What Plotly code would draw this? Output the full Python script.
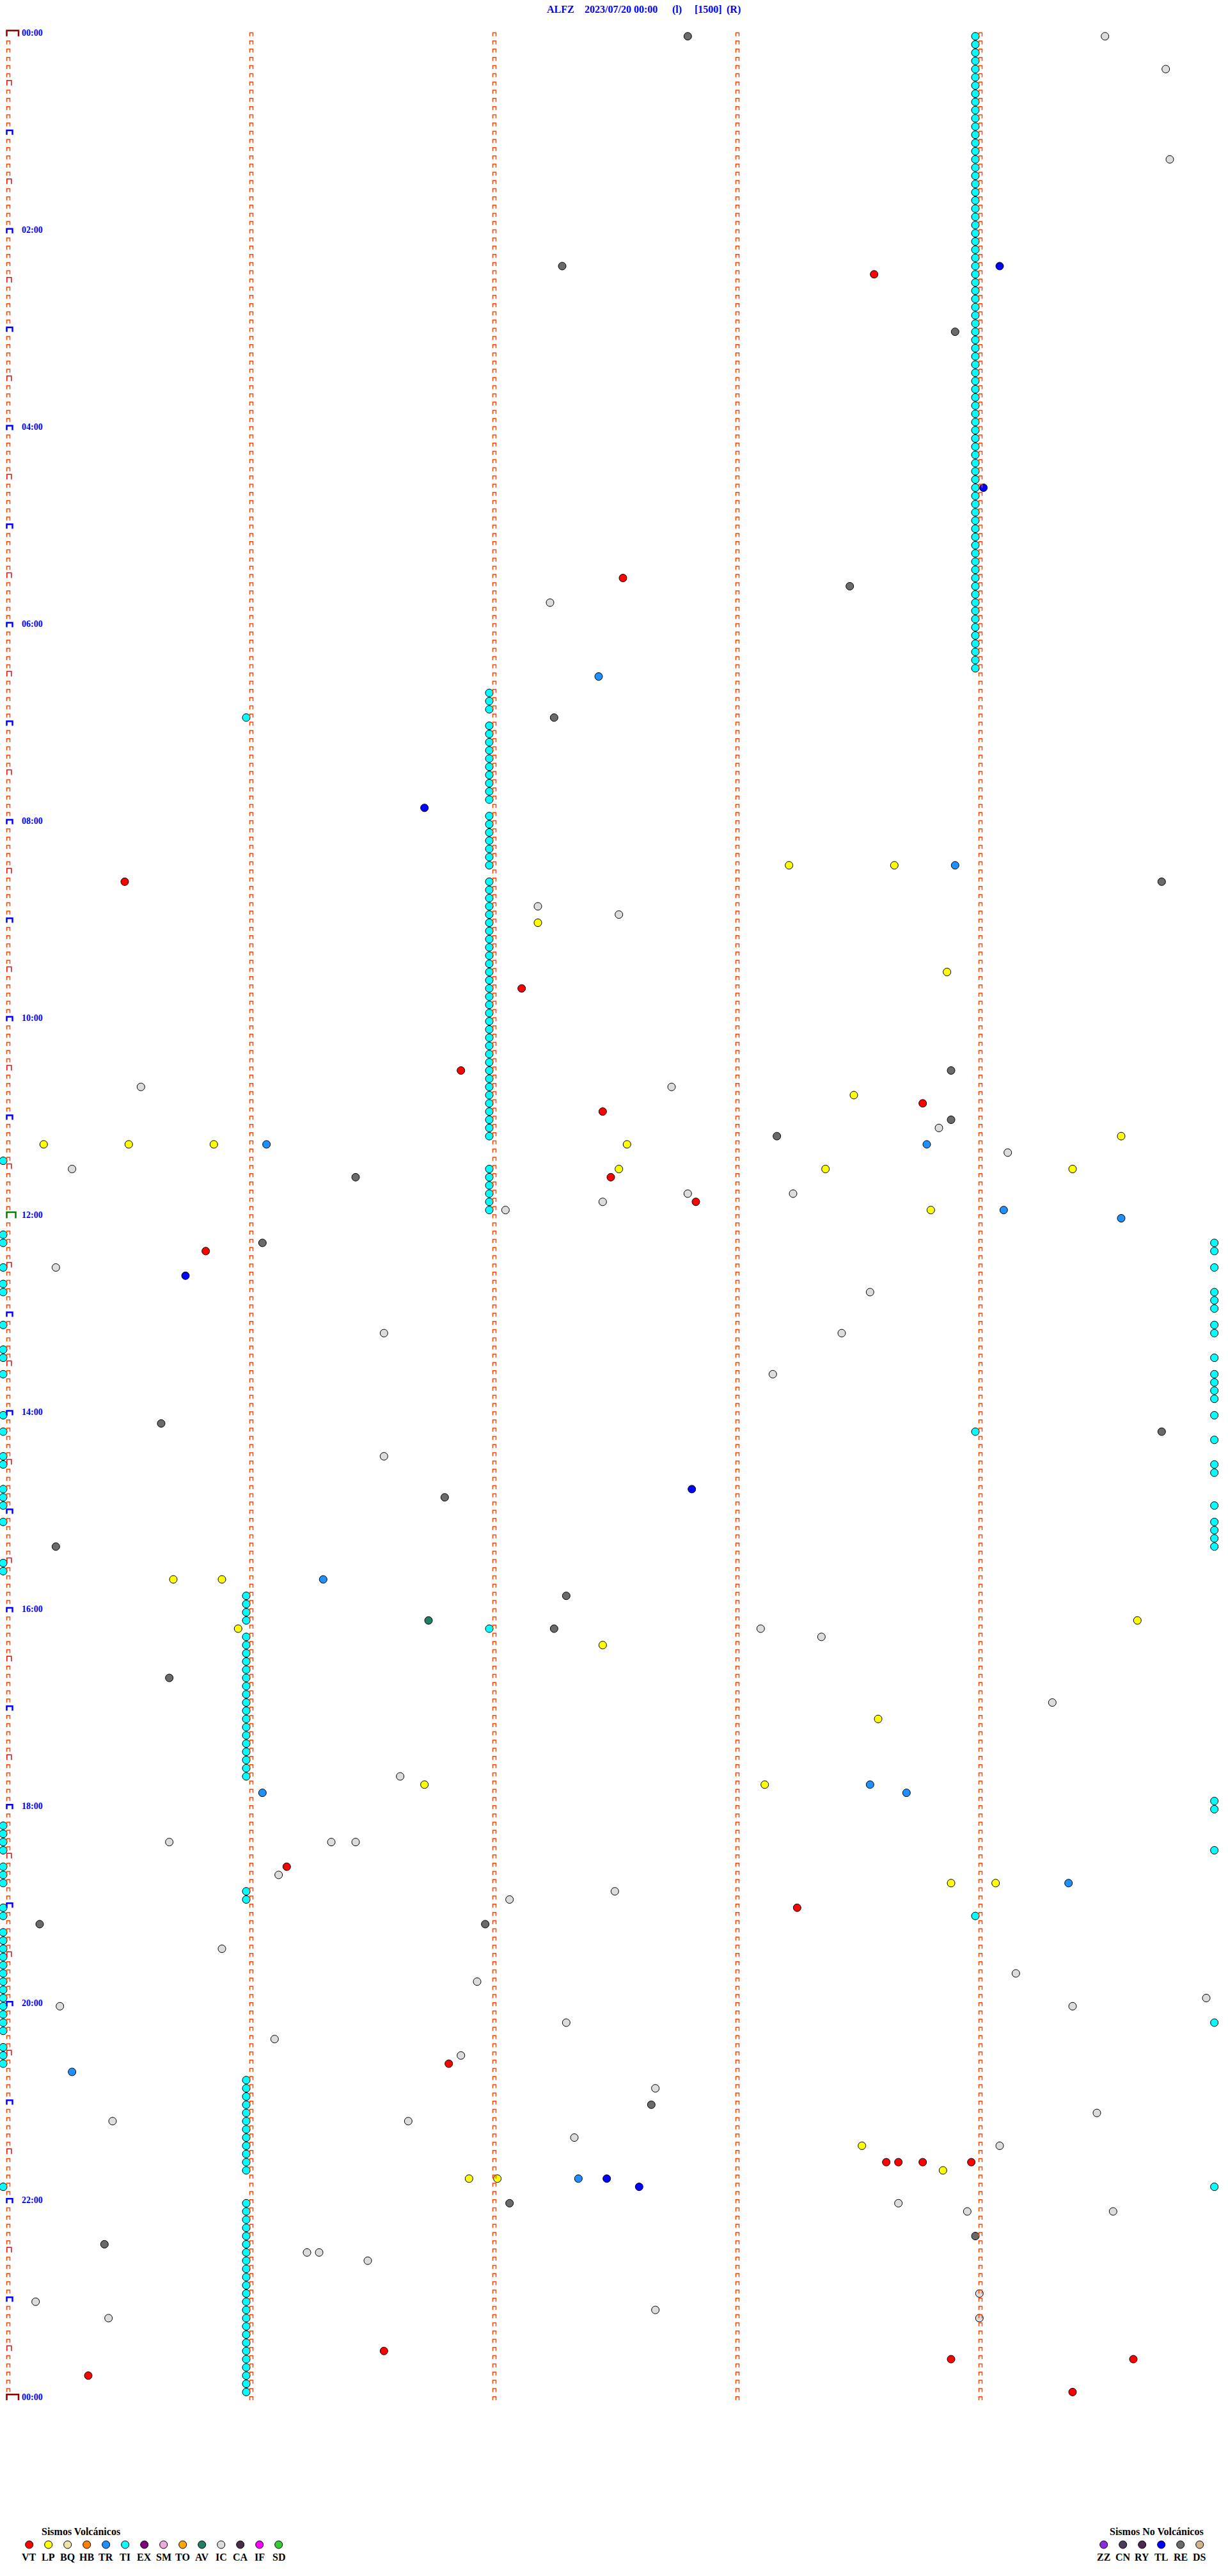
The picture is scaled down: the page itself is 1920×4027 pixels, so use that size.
import plotly.graph_objects as go

# ---------------- data ----------------
station = "ALFZ"
title_parts = ["ALFZ", "2023/07/20 00:00", "(l)", "[1500]", "(R)"]

volc_codes = ["VT", "LP", "BQ", "HB", "TR", "TI", "EX", "SM", "TO", "AV", "IC", "CA", "IF", "SD"]
volc_colors = ["#FF0000", "#FFFF00", "#EEE4AA", "#FF8000", "#1E90FF", "#00FFFF", "#800080",
               "#EEAADD", "#FFA500", "#1F7F66", "#DCDCDC", "#4A2B48", "#FF00FF", "#33CC33"]
novolc_codes = ["ZZ", "CN", "RY", "TL", "RE", "DS"]
novolc_colors = ["#8A2BE2", "#4B3A5A", "#4A2850", "#0000FF", "#6A6A6A", "#D2B48C"]

ti_times = """
00:04:00 00:09:00 00:14:00 00:19:00 00:24:00 00:29:00 00:34:00 00:39:00 00:44:00 00:49:00 00:54:00 00:59:00
01:04:00 01:09:00 01:14:00 01:19:00 01:24:00 01:29:00 01:34:00 01:39:00 01:44:00 01:49:00 01:54:00 01:59:00
02:04:00 02:09:00 02:14:00 02:19:00 02:24:00 02:29:00 02:34:00 02:39:00 02:44:00 02:49:00 02:54:00 02:59:00
03:04:00 03:09:00 03:14:00 03:19:00 03:24:00 03:29:00 03:34:00 03:39:00 03:44:00 03:49:00 03:54:00 03:59:00
04:04:00 04:09:00 04:14:00 04:19:00 04:24:00 04:29:00 04:34:00 04:39:00 04:44:00 04:49:00 04:54:00 04:59:00
05:04:00 05:09:00 05:14:00 05:19:00 05:24:00 05:29:00 05:34:00 05:39:00 05:44:00 05:49:00 05:54:00 05:59:00
06:04:00 06:09:00 06:14:00 06:19:00 06:24:00 06:29:00 06:42:00 06:47:00 06:52:00 06:56:00
07:02:00 07:07:00 07:12:00 07:17:00 07:22:00 07:27:00 07:32:00 07:37:00 07:42:00 07:47:00 07:57:00
08:02:00 08:07:00 08:12:00 08:17:00 08:22:00 08:27:00 08:37:00 08:42:00 08:47:00 08:52:00 08:57:00
09:02:00 09:07:00 09:12:00 09:17:00 09:22:00 09:27:00 09:32:00 09:37:00 09:42:00 09:47:00 09:52:00 09:57:00
10:02:00 10:07:00 10:12:00 10:17:00 10:22:00 10:27:00 10:32:00 10:37:00 10:42:00 10:47:00 10:52:00 10:57:00
11:02:00 11:07:00 11:12:00 11:25:00 11:32:00 11:37:00 11:42:00 11:47:00 11:52:00 11:57:00
12:10:00 12:15:00 12:30:00 12:40:00 12:45:00 12:19:59 12:24:59 12:34:59 12:49:59 12:54:59 12:59:59
13:05:00 13:20:00 13:25:00 13:35:00 13:09:59 13:14:59 13:29:59 13:39:59 13:44:59 13:49:59 13:54:59
14:00:00 14:10:00 14:25:00 14:30:00 14:45:00 14:50:00 14:55:00 14:04:59 14:19:59 14:34:59 14:39:59 14:59:59 14:14:00
15:05:00 15:30:00 15:35:00 15:09:59 15:14:59 15:19:59 15:24:59 15:51:00 15:56:00
16:01:00 16:06:00 16:16:00 16:21:00 16:26:00 16:31:00 16:36:00 16:41:00 16:46:00 16:51:00 16:56:00 16:12:00
17:01:00 17:06:00 17:11:00 17:16:00 17:21:00 17:26:00 17:31:00 17:36:00 17:41:00 17:59:59
18:04:59 18:29:59 18:10:00 18:15:00 18:20:00 18:25:00 18:35:00 18:40:00 18:45:00 18:51:00 18:56:00
19:00:00 19:05:00 19:15:00 19:20:00 19:25:00 19:30:00 19:35:00 19:40:00 19:45:00 19:50:00 19:55:00 19:09:00
20:00:00 20:05:00 20:10:00 20:15:00 20:25:00 20:30:00 20:35:00 20:14:59 20:46:00 20:51:00 20:56:00
21:01:00 21:06:00 21:11:00 21:16:00 21:21:00 21:26:00 21:31:00 21:36:00 21:41:00 21:50:00 21:54:59
22:01:00 22:06:00 22:11:00 22:16:00 22:21:00 22:26:00 22:31:00 22:36:00 22:41:00 22:46:00 22:51:00 22:56:00
23:01:00 23:06:00 23:11:00 23:16:00 23:21:00 23:26:00 23:31:00 23:36:00 23:41:00 23:46:00 23:51:00 23:56:00
""".split()

vt_times = ["02:28:35", "05:32:33", "08:35:30", "09:42:08", "10:31:53", "10:53:47", "10:57:28",
            "11:37:30", "11:52:51", "12:20:50", "18:36:10", "19:03:16", "20:36:50", "21:38:38",
            "21:38:41", "21:38:47", "21:38:59", "23:31:34", "23:38:54", "23:39:39", "23:45:21",
            "23:59:24"]
lp_times = ["08:28:14", "08:28:40", "09:02:12", "09:33:53", "10:48:30", "11:14:36", "11:15:10",
            "11:15:31", "11:15:52", "11:17:34", "11:32:32", "11:33:23", "11:34:24", "11:58:49",
            "15:40:42", "15:40:54", "16:09:40", "16:10:58", "16:22:28", "17:08:36", "17:46:44",
            "17:48:08", "18:48:54", "18:49:05", "21:28:32", "21:43:52", "21:46:55", "21:47:02"]
tr_times = ["06:32:27", "08:28:55", "11:16:05", "11:18:48", "11:59:07", "12:04:36", "15:41:19",
            "17:48:34", "17:51:04", "17:53:43", "18:49:23", "20:40:17", "21:47:22"]
tl_times = ["02:24:06", "04:39:02", "07:51:44", "12:35:45", "14:47:50", "21:47:29", "21:52:37"]
av_times = ["16:06:45"]
re_times = ["00:02:49", "02:22:18", "03:03:55", "05:38:29", "06:57:16", "08:39:46", "10:33:54",
            "11:03:54", "11:13:11", "11:36:27", "12:16:04", "14:05:39", "14:14:46", "14:51:49",
            "15:20:13", "15:52:19", "16:12:16", "16:40:41", "19:10:09", "19:11:59", "21:02:40",
            "22:02:05", "22:24:00", "22:25:25"]
ic_times = ["00:04:32", "00:24:47", "01:19:48", "05:47:15", "08:52:12", "08:57:32", "10:40:34",
            "10:42:45", "11:08:51", "11:24:08", "11:30:17", "11:47:49", "11:48:15", "11:52:28",
            "11:57:04", "12:30:13", "12:48:34", "13:11:34", "13:13:27", "13:38:10", "14:26:34",
            "16:13:07", "16:18:22", "16:59:19", "17:41:38", "18:20:41", "18:21:21", "18:21:27",
            "18:41:08", "18:52:31", "18:57:05", "19:25:54", "19:44:10", "19:46:57", "19:59:57",
            "20:00:14", "20:04:24", "20:12:19", "20:21:07", "20:31:53", "20:52:41", "21:09:30",
            "21:10:27", "21:11:40", "21:22:21", "21:29:06", "22:03:41", "22:08:58", "22:09:34",
            "22:31:15", "22:31:18", "22:36:30", "22:59:01", "23:00:08", "23:07:41", "23:10:26",
            "23:14:01"]

# ---------------- layout constants (pixels) ----------------
W, H = 1920, 4027
ROW_S = 300                 # one row = 5 minutes
PX_PER_S = 380 / 60         # horizontal scale
X0_PX = 5                   # pixel of offset 0 s
PX_PER_H = 153.98           # vertical scale
Y0_PX = 56.7                # pixel of 00:00 row
COL_PX = [13, 393, 773, 1153, 1533]
MARK_ORANGE = "#FF4400"
SERIF = "Liberation Serif, Times New Roman, serif"


def to_xy(t):
    h, m, s = [int(v) for v in t.split(":")]
    sec = h * 3600 + m * 60 + s
    block = sec // ROW_S
    return sec - block * ROW_S, block * ROW_S / 3600.0


def px_x(px):
    return (px - X0_PX) / PX_PER_S


def dpx_y(px):
    return px / PX_PER_H


fig = go.Figure()

# ---------------- event dots ----------------
color_of = dict(zip(volc_codes + novolc_codes, volc_colors + novolc_colors))
for code, times in [("TI", ti_times), ("IC", ic_times), ("RE", re_times), ("TL", tl_times),
                    ("TR", tr_times), ("LP", lp_times), ("VT", vt_times), ("AV", av_times)]:
    xy = [to_xy(t) for t in times]
    fig.add_trace(go.Scatter(
        x=[p[0] for p in xy], y=[p[1] for p in xy], mode="markers", name=code,
        marker=dict(size=12, color=color_of[code], line=dict(color="#000000", width=1)),
        hoverinfo="skip"))

# ---------------- 5-minute row markers ----------------
n_rows = 24 * 12 + 1
groups = {
    "small": dict(color=MARK_ORANGE, width=1.5, xs=[], ys=[]),
    "half": dict(color="#FF0000", width=1.5, xs=[], ys=[]),
    "hour": dict(color="#0000FF", width=2.5, xs=[], ys=[]),
    "noon": dict(color="#008000", width=2.5, xs=[], ys=[]),
    "day": dict(color="#8B0000", width=2.5, xs=[], ys=[]),
}


def add_mark(g, xl_px, xr_px, h_px, y):
    xl, xr = px_x(xl_px), px_x(xr_px)
    yt = y - dpx_y(h_px)
    groups[g]["xs"] += [xl, xl, xr, xr, None]
    groups[g]["ys"] += [y, yt, yt, y, None]


for k in range(n_rows):
    y = k * ROW_S / 3600.0
    for j, cpx in enumerate(COL_PX):
        if j == 0 and k % 288 == 0:
            add_mark("day", 10.5, 29.0, 9, y)
        elif j == 0 and k == 144:
            add_mark("noon", 10.5, 24.5, 9.5, y)
        elif j == 0 and k % 12 == 0:
            add_mark("hour", 10.5, 19.5, 7, y)
        elif j == 0 and k % 6 == 0:
            add_mark("half", 10.8, 17.8, 8, y)
        else:
            add_mark("small", cpx - 2.5, cpx + 2.5, 5.5, y)

for g in groups.values():
    fig.add_trace(go.Scatter(x=g["xs"], y=g["ys"], mode="lines",
                             line=dict(color=g["color"], width=g["width"]),
                             hoverinfo="skip", connectgaps=False))

annotations = []
# ---------------- time labels every 2 hours ----------------
for k in range(0, n_rows, 24):
    hh = (k // 12) % 24
    annotations.append(dict(
        x=px_x(32), y=k * ROW_S / 3600.0, xref="x", yref="y", text="<b>%02d:00</b>" % hh,
        showarrow=False, xanchor="left", yanchor="middle", yshift=5,
        font=dict(family=SERIF, size=14, color="#0000FF")))

# ---------------- title ----------------
title_left_px = [853, 912, 1049, 1084, 1134]
for txt, lx in zip(title_parts, title_left_px):
    annotations.append(dict(
        x=lx / W, y=1 - 14.5 / H, xref="paper", yref="paper", text="<b>%s</b>" % txt,
        showarrow=False, xanchor="left", yanchor="middle",
        font=dict(family=SERIF, size=16, color="#0000FF")))

# ---------------- legends ----------------
shapes = []


def legend_block(title, codes, colors, first_px, title_px):
    annotations.append(dict(
        x=title_px / W, y=1 - 3957 / H, xref="paper", yref="paper", text="<b>%s</b>" % title,
        showarrow=False, xanchor="left", yanchor="middle",
        font=dict(family=SERIF, size=16, color="#000000")))
    for i, (c, col) in enumerate(zip(codes, colors)):
        cx = first_px + 30 * i
        shapes.append(dict(
            type="circle", xref="paper", yref="paper", xsizemode="pixel", ysizemode="pixel",
            xanchor=cx / W, yanchor=1 - 3978 / H, x0=-6, x1=6, y0=-6, y1=6,
            fillcolor=col, line=dict(color="#000000", width=1)))
        annotations.append(dict(
            x=cx / W, y=1 - 3997 / H, xref="paper", yref="paper", text="<b>%s</b>" % c,
            showarrow=False, xanchor="center", yanchor="middle",
            font=dict(family=SERIF, size=16, color="#000000")))


legend_block("Sismos Volcánicos", volc_codes, volc_colors, 45.7, 63)
legend_block("Sismos No Volcánicos", novolc_codes, novolc_colors, 1725.7, 1733)

fig.update_layout(
    width=W, height=H, margin=dict(l=0, r=0, t=0, b=0, pad=0),
    paper_bgcolor="#FFFFFF", plot_bgcolor="#FFFFFF", showlegend=False,
    xaxis=dict(range=[px_x(0), px_x(W)], visible=False, fixedrange=True),
    yaxis=dict(range=[(H - Y0_PX) / PX_PER_H, -Y0_PX / PX_PER_H], visible=False, fixedrange=True),
    annotations=annotations, shapes=shapes,
)

fig.write_html("out.html", config={"displayModeBar": False},
               post_script="document.body.style.margin='0';")
